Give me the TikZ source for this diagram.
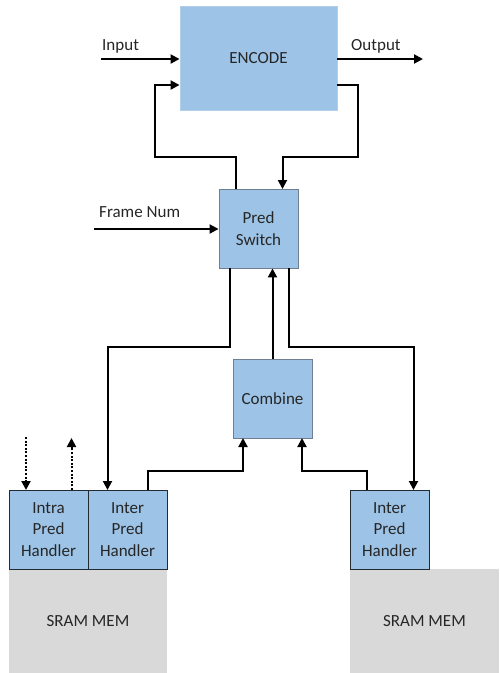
\documentclass[tikz,border=0pt]{standalone}
\usepackage{fontspec}
\setmainfont{Carlito}
\usetikzlibrary{arrows.meta}
\definecolor{boxblue}{HTML}{9DC3E6}
\definecolor{boxline}{HTML}{6F7F8F}
\definecolor{darkline}{HTML}{222A33}
\definecolor{memgray}{HTML}{D9D9D9}
\definecolor{txt}{HTML}{262626}
\begin{document}
\begin{tikzpicture}[x=1pt,y=-1pt,
  every node/.style={font=\fontsize{17}{21.5}\selectfont, text=txt, inner sep=0pt, align=center},
  block/.style={draw=boxline, line width=0.9pt, fill=boxblue},
  handler/.style={draw=darkline, line width=0.9pt, fill=boxblue, minimum width=79pt, minimum height=79pt},
  mem/.style={fill=memgray, minimum height=104pt},
  wire/.style={line width=2pt, draw=black, -{Triangle[length=9pt,width=9pt]}},
  dotwire/.style={line width=2pt, draw=black, dash pattern=on 2pt off 1.6pt, -{Triangle[length=9pt,width=9pt]}},
  lbl/.style={anchor=west}]
\useasboundingbox (0,0) rectangle (499,673);

% memories (drawn first, handlers sit on top)
\node[mem, minimum width=158pt] (memL) at (88,621) {SRAM MEM};
\node[mem, minimum width=149pt] (memR) at (424.5,621) {SRAM MEM};

% main blocks
\node[block, draw=boxblue!80!white, minimum width=157pt, minimum height=104pt] (enc) at (258.5,58) {ENCODE};
\node[block, minimum width=79pt, minimum height=79pt] (ps) at (258.5,228.5) {Pred\\Switch};
\node[block, minimum width=79pt, minimum height=79pt] (comb) at (272.5,398.5) {Combine};
\node[handler] (intra) at (48.5,529.5) {Intra\\Pred\\Handler};
\node[handler] (interL) at (127.5,529.5) {Inter\\Pred\\Handler};
\node[handler] (interR) at (389.5,529.5) {Inter\\Pred\\Handler};

% external inputs / outputs
\coordinate (inS) at (101,59);
\coordinate (outE) at (423,59);
\coordinate (fnS) at (94,229);
\node[lbl] (inL) at (102,46) {Input};
\node[lbl] (outL) at (351,46) {Output};
\node[lbl] (fnL) at (99,212) {Frame Num};

\draw[wire] (inS) -- (inS -| enc.west);
\draw[wire] (outE -| enc.east) -- (outE);
\draw[wire] (fnS) -- (fnS -| ps.west);

% feedback between ENCODE and Pred Switch
\draw[wire] (236,189) -- (236,157) -- (154.5,157) -- (154.5,85) -- (enc.west |- 0,85);
\draw[wire] (enc.east |- 0,85) -- (357.5,85) -- (357.5,157) -- (282.5,157) -- (282.5,189);

% Pred Switch to handlers
\draw[wire] (229.5,268) -- (229.5,346.5) -- (107.5,346.5) -- (107.5,490);
\draw[wire] (289,268) -- (289,346.5) -- (413.5,346.5) -- (413.5,490);

% Combine to Pred Switch
\draw[wire] (comb.north) -- (ps.south -| comb.north);

% handlers to Combine
\draw[wire] (147.5,490) -- (147.5,471) -- (243,471) -- (243,438);
\draw[wire] (367,490) -- (367,471) -- (302,471) -- (302,438);

% intra handler external links
\draw[dotwire] (26,437) -- (26,490);
\draw[dotwire] (71.5,490) -- (71.5,438);
\end{tikzpicture}
\end{document}
